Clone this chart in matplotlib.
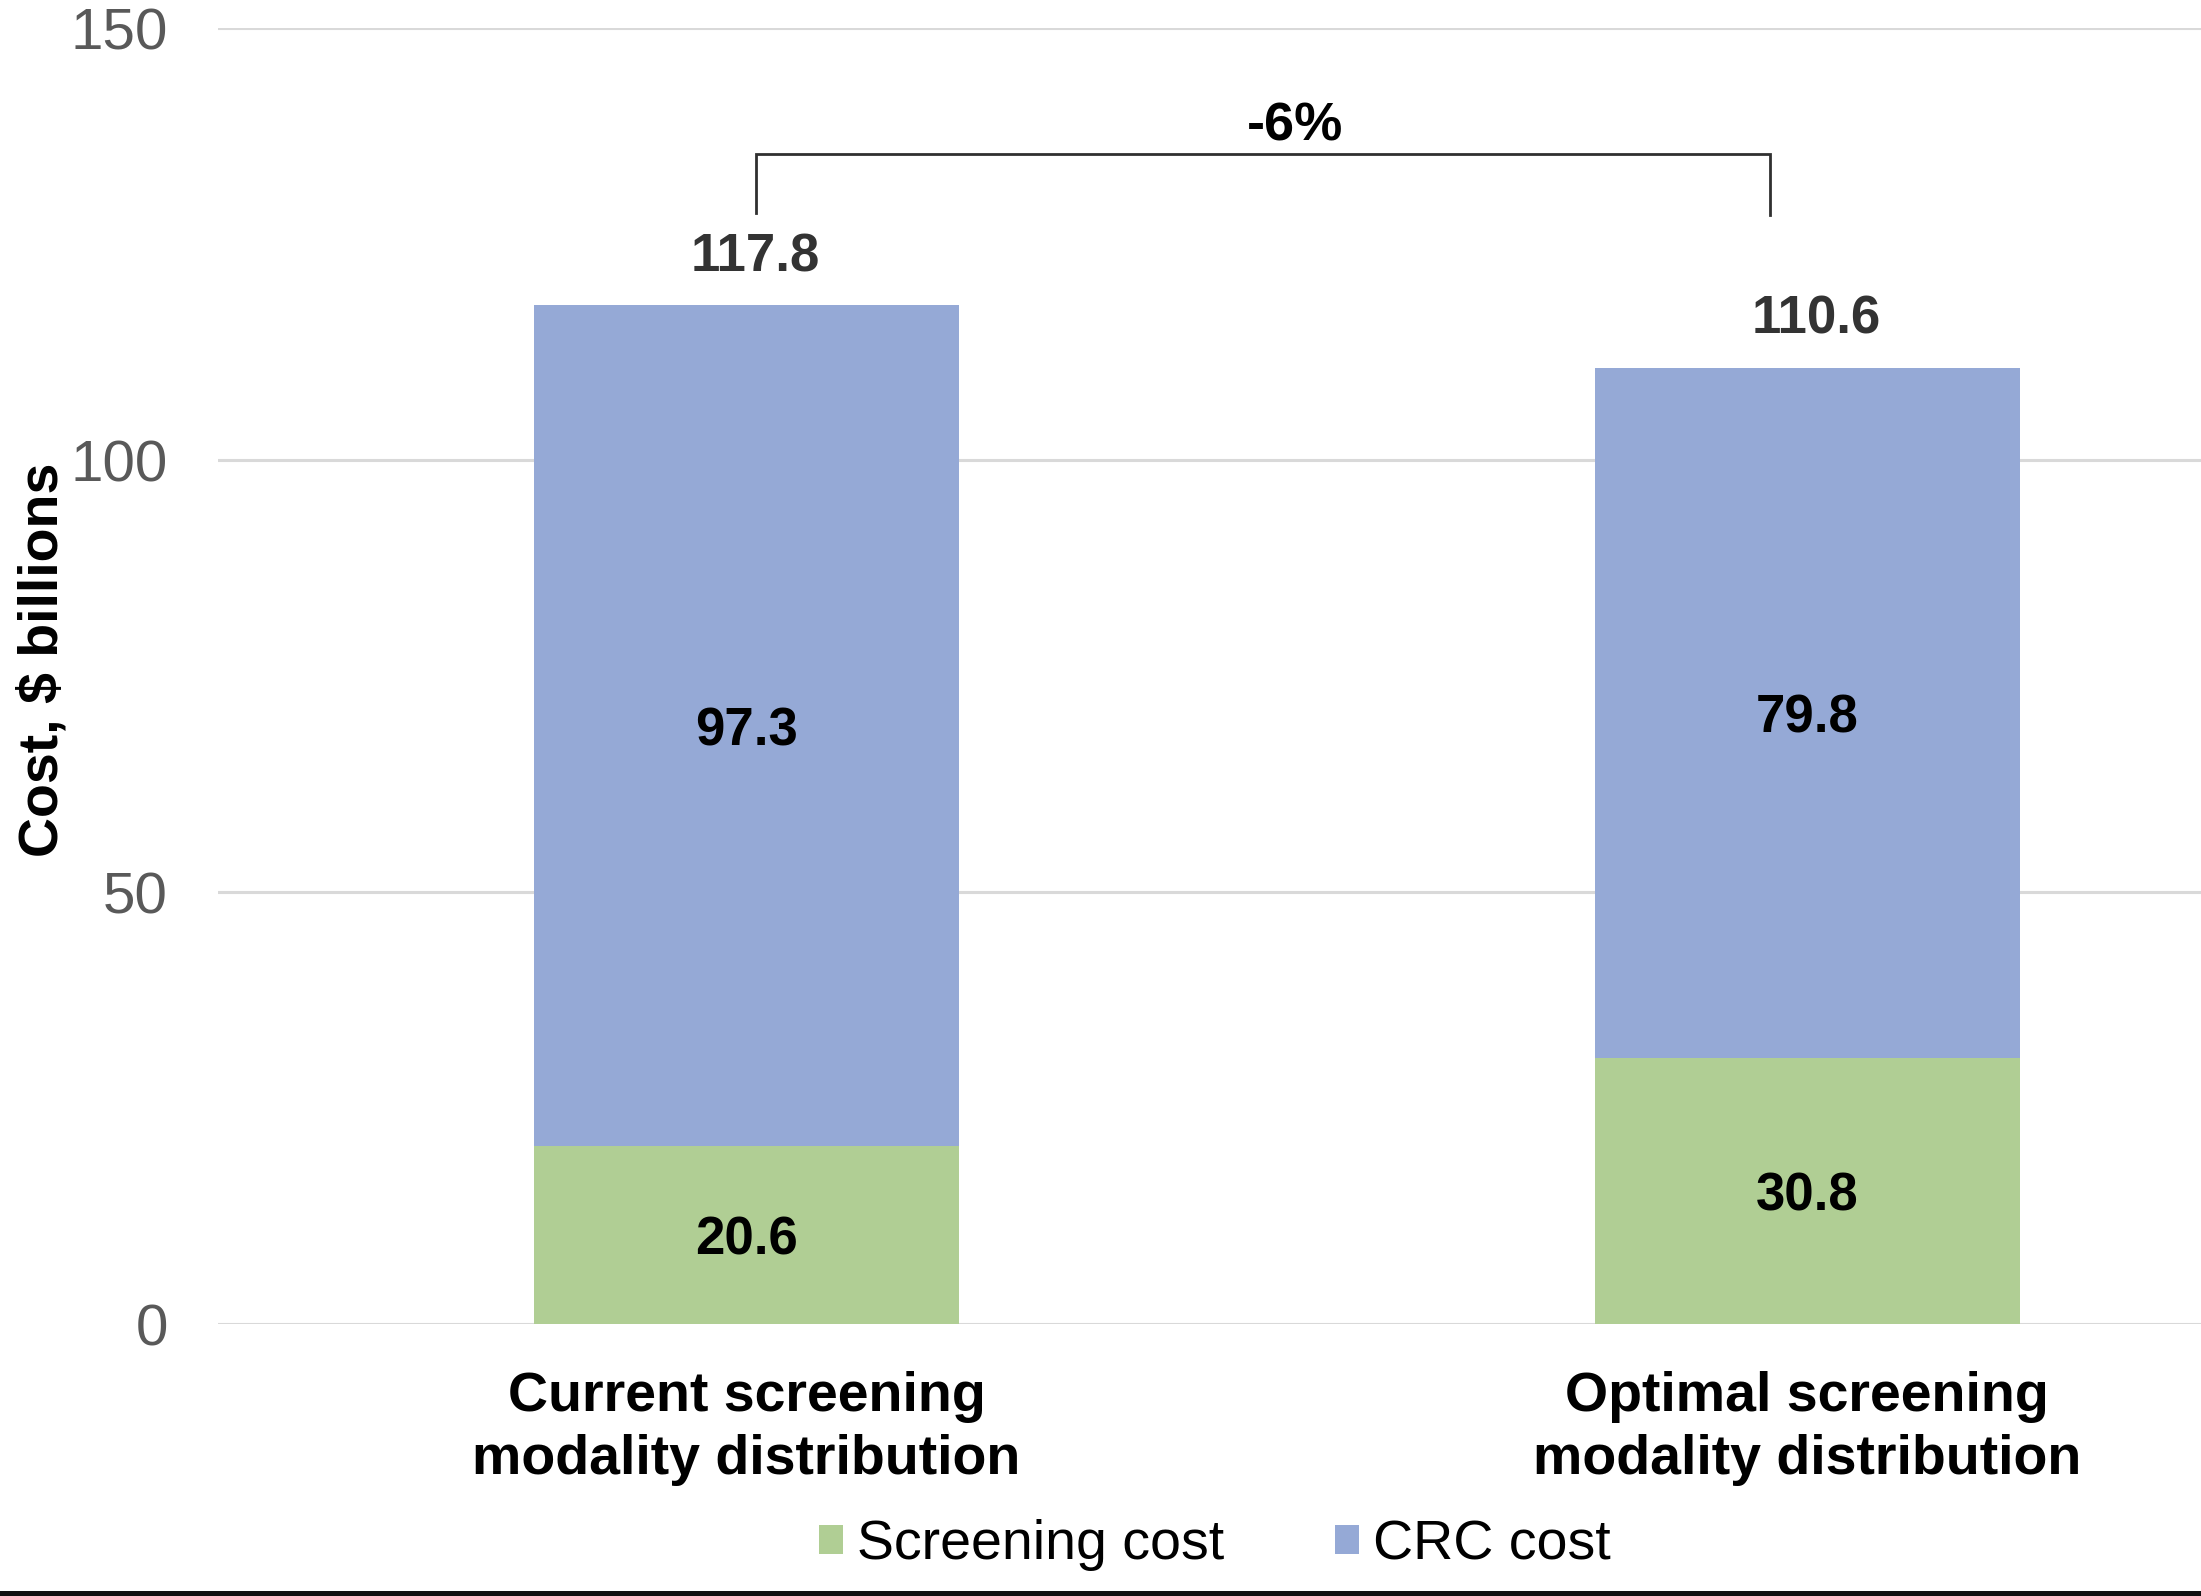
import matplotlib
matplotlib.use("Agg")
import matplotlib.pyplot as plt
from matplotlib.patches import Patch, Rectangle
import numpy as np

plt.rcParams['font.family'] = ['Liberation Sans', 'DejaVu Sans']

# Data
categories = ['Current screening\nmodality distribution', 'Optimal screening\nmodality distribution']
screening_cost = [20.6, 30.8]
crc_cost = [97.3, 79.8]
totals = [117.8, 110.6]
change_label = '-6%'
y_ticks = [0, 50, 100, 150]

green = '#B0CE94'
blue = '#95A9D6'

fig = plt.figure(figsize=(22.01, 15.96), dpi=100)
ax = fig.add_axes([218 / 2201, 1 - 1324 / 1596, 1 - 218 / 2201, (1324 - 28) / 1596])

x = np.arange(len(categories))
width = 0.4
ax.bar(x, screening_cost, width, color=green, zorder=3, label='Screening cost')
ax.bar(x, crc_cost, width, bottom=screening_cost, color=blue, zorder=3, label='CRC cost')

# segment values inside the bars
for i in range(len(x)):
    ax.text(x[i], screening_cost[i] / 2, f'{screening_cost[i]:.1f}', ha='center', va='center_baseline',
            fontsize=38, fontweight='bold', color='black', zorder=4)
    ax.text(x[i], screening_cost[i] + crc_cost[i] / 2, f'{crc_cost[i]:.1f}', ha='center',
            va='center_baseline', fontsize=38, fontweight='bold', color='black', zorder=4)
    # totals above the bars
    ax.text(x[i] + 0.008, totals[i] + 4.0, f'{totals[i]:.1f}', ha='center', va='baseline',
            fontsize=38, fontweight='bold', color='#333333')

# bracket showing the change between the two totals
bx0, bx1 = x[0] + 0.009, x[1] - 0.035
by = max(totals) + 17.6
ax.plot([bx0, bx0, bx1, bx1], [by - 6.8, by, by, by - 7.0], color='#303030', lw=2.0,
        solid_joinstyle='miter', zorder=5)
ax.text((bx0 + bx1) / 2 + 0.03, by + 0.3, change_label, ha='center', va='bottom',
        fontsize=39, fontweight='bold', color='black')

ax.set_xlim(-0.498, 1.371)
ax.set_ylim(0, 150)
ax.set_yticks(y_ticks)
ax.set_yticklabels([str(t) for t in y_ticks], fontsize=42, color='#595959')
ax.set_xticks(x)
ax.set_xticklabels(categories, fontsize=40, fontweight='bold', color='black', linespacing=1.27)
ax.tick_params(axis='both', length=0)
ax.tick_params(axis='y', pad=36)
ax.tick_params(axis='x', pad=34)
ax.grid(axis='y', color='#d9d9d9', lw=2.2, zorder=0)
for s in ax.spines.values():
    s.set_visible(False)

fig.text(44 / 2201, 1 - 660 / 1596, 'Cost, $ billions', rotation=90, ha='center', va='center',
         fontsize=40, fontweight='bold', color='black')

handles = [Patch(facecolor=green, label='Screening cost'), Patch(facecolor=blue, label='CRC cost')]
fig.legend(handles=handles, loc='center', bbox_to_anchor=(1215 / 2201, 1 - 1545 / 1596), ncol=2,
           frameon=False, fontsize=40, handlelength=0.43, handleheight=0.43, handletextpad=0.25,
           columnspacing=2.0)

# dark strip along the bottom edge
fig.patches.append(Rectangle((0, 0), 1, 5 / 1596, transform=fig.transFigure, facecolor='#111111',
                             edgecolor='none', zorder=10))

fig.savefig('out.png', dpi=100, facecolor='white')
